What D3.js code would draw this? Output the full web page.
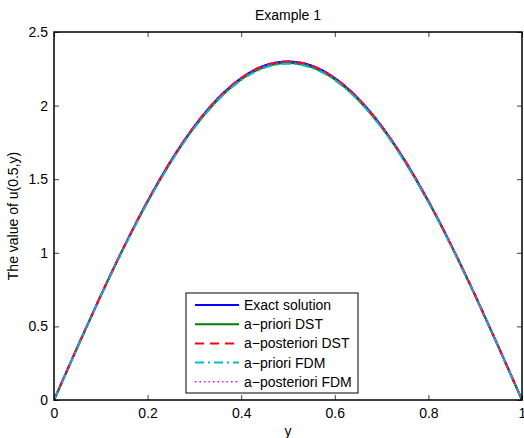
<!DOCTYPE html>
<html><head><meta charset="utf-8">
<script src="https://cdn.jsdelivr.net/npm/d3@7"></script>
<style>body{margin:0;background:#fff}svg{display:block}text{font-family:"Liberation Sans",Arial,Helvetica,sans-serif}</style>
</head><body>
<svg id="c" width="524" height="438"></svg>
<script>
const yGrid = [0,0.05,0.1,0.15,0.2,0.25,0.3,0.35,0.4,0.45,0.5,0.55,0.6,0.65,0.7,0.75,0.8,0.85,0.9,0.95,1];
const exactVals   = [0,0.360,0.711,1.044,1.352,1.626,1.861,2.049,2.187,2.272,2.300,2.272,2.187,2.049,1.861,1.626,1.352,1.044,0.711,0.360,0];
const prioriDST   = [0,0.358,0.708,1.040,1.346,1.619,1.853,2.040,2.178,2.262,2.290,2.262,2.178,2.040,1.853,1.619,1.346,1.040,0.708,0.358,0];
const postDST     = [0,0.360,0.711,1.044,1.352,1.626,1.861,2.049,2.187,2.272,2.300,2.272,2.187,2.049,1.861,1.626,1.352,1.044,0.711,0.360,0];
const prioriFDM   = [0,0.357,0.706,1.037,1.343,1.616,1.849,2.036,2.173,2.257,2.285,2.257,2.173,2.036,1.849,1.616,1.343,1.037,0.706,0.357,0];
const postFDM     = [0,0.360,0.710,1.043,1.351,1.625,1.860,2.048,2.186,2.271,2.299,2.271,2.186,2.048,1.860,1.625,1.351,1.043,0.710,0.360,0];
const seriesNames = ["Exact solution","a\u2212priori DST","a\u2212posteriori DST","a\u2212priori FDM","a\u2212posteriori FDM"];
const xTicks = [0,0.2,0.4,0.6,0.8,1];
const yTicks = [0,0.5,1,1.5,2,2.5];

const series = [
  {name:seriesNames[0], vals:exactVals, color:"#0000ff", dash:null, w:2},
  {name:seriesNames[1], vals:prioriDST, color:"#008000", dash:null, w:2},
  {name:seriesNames[2], vals:postDST, color:"#ff0000", dash:"9,6", w:2},
  {name:seriesNames[3], vals:prioriFDM, color:"#00c0c0", dash:"9,4,2,4", w:2},
  {name:seriesNames[4], vals:postFDM, color:"#ff00ff", dash:"1.5,3", w:1.5}
];

const svg = d3.select("#c");
const L=54, R=522, T=32, B=400;
const x = d3.scaleLinear().domain([0,1]).range([L,R]);
const y = d3.scaleLinear().domain([0,2.5]).range([B,T]);

svg.append("defs").append("clipPath").attr("id","pc").append("rect")
  .attr("x",L).attr("y",T-3).attr("width",R-L+2).attr("height",B-T+6);

const line = d3.line().x((d,i)=>x(yGrid[i])).y(d=>y(d)).curve(d3.curveNatural);
const g = svg.append("g").attr("clip-path","url(#pc)");
series.forEach(s=>{
  g.append("path").attr("d",line(s.vals)).attr("fill","none")
   .attr("stroke",s.color).attr("stroke-width",s.w)
   .attr("stroke-dasharray",s.dash);
});

const tl = 5;
const axB = svg.append("g").attr("transform",`translate(0,${B})`)
  .call(d3.axisBottom(x).tickValues(xTicks).tickSize(-tl).tickPadding(8).tickFormat(d3.format("")));
const axT = svg.append("g").attr("transform",`translate(0,${T})`)
  .call(d3.axisTop(x).tickValues(xTicks).tickSize(-tl).tickFormat(""));
const axL = svg.append("g").attr("transform",`translate(${L},0)`)
  .call(d3.axisLeft(y).tickValues(yTicks).tickSize(-tl).tickPadding(6).tickFormat(d3.format("")));
const axR = svg.append("g").attr("transform",`translate(${R},0)`)
  .call(d3.axisRight(y).tickValues(yTicks).tickSize(-tl).tickFormat(""));
[axB,axT,axL,axR].forEach(a=>{
  a.select(".domain").remove();
  a.selectAll(".tick line").attr("stroke","#444");
  a.selectAll("text").attr("font-size",14).attr("fill","#000").attr("font-family","Liberation Sans, Arial, sans-serif");
});
svg.append("rect").attr("x",L).attr("y",T).attr("width",R-L).attr("height",B-T)
  .attr("fill","none").attr("stroke","#000").attr("stroke-width",1.5);

svg.append("text").attr("x",(L+R)/2).attr("y",20).attr("text-anchor","middle")
  .attr("font-size",14).text("Example 1");
svg.append("text").attr("x",(L+R)/2).attr("y",436).attr("text-anchor","middle")
  .attr("font-size",14).text("y");
svg.append("text").attr("transform",`translate(18,${(T+B)/2}) rotate(-90)`).attr("text-anchor","middle")
  .attr("font-size",14).text("The value of u(0.5,y)");

// legend
const lg = svg.append("g");
lg.append("rect").attr("x",186).attr("y",293).attr("width",172).attr("height",100)
  .attr("fill","#fff").attr("stroke","#000").attr("stroke-width",1);
series.forEach((s,i)=>{
  const yy = 305 + i*19.2;
  lg.append("line").attr("x1",195).attr("x2",239).attr("y1",yy).attr("y2",yy)
    .attr("stroke",s.color).attr("stroke-width",s.w).attr("stroke-dasharray",s.dash);
  lg.append("text").attr("x",244).attr("y",yy).attr("dy","0.35em").attr("font-size",14).text(s.name);
});
</script>
</body></html>
